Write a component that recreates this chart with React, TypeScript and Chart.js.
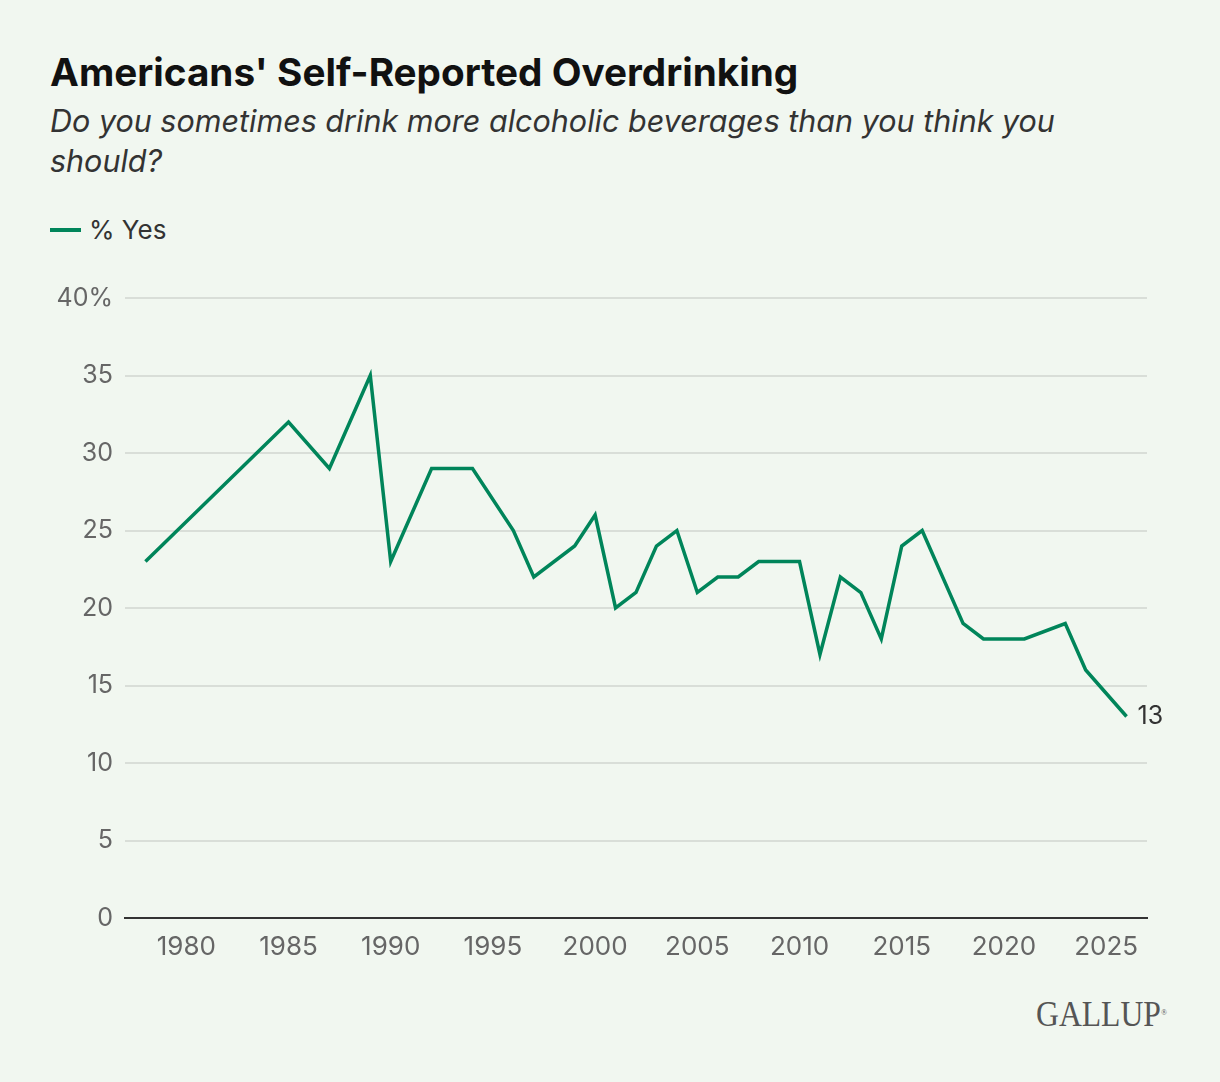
import { useEffect, useRef } from 'react';
import { Chart, registerables } from 'chart.js';

Chart.register(...registerables);

// survey years and % saying "yes"
const years = [1978, 1985, 1987, 1989, 1990, 1992, 1993, 1994, 1996, 1997, 1999, 2000, 2001, 2002, 2003, 2004, 2005, 2006, 2007, 2008, 2009, 2010, 2011, 2012, 2013, 2014, 2015, 2016, 2018, 2019, 2020, 2021, 2023, 2024, 2026];
const yesPct = [23, 32, 29, 35, 23, 29, 29, 29, 25, 22, 24, 26, 20, 21, 24, 25, 21, 22, 22, 23, 23, 23, 17, 22, 21, 18, 24, 25, 19, 18, 18, 18, 19, 16, 13];
const xTicks = [1980, 1985, 1990, 1995, 2000, 2005, 2010, 2015, 2020, 2025];
const yTicks = [0, 5, 10, 15, 20, 25, 30, 35, 40];

const GREEN = '#00855a';
const BG = '#f1f7f0';
const FONT = 'Inter, Roboto, "Noto Sans", sans-serif';

document.body.style.margin = '0';

// writes the last value next to the line end
const endLabel = {
  id: 'endLabel',
  afterDatasetsDraw(chart: any) {
    const meta = chart.getDatasetMeta(0);
    const last = meta.data[meta.data.length - 1];
    if (!last) return;
    const ctx = chart.ctx;
    ctx.save();
    ctx.font = `25px ${FONT}`;
    ctx.fillStyle = '#333';
    ctx.textBaseline = 'middle';
    ctx.fillText(String(yesPct[yesPct.length - 1]), last.x + 11, last.y);
    ctx.restore();
  },
};

export default function App() {
  const canvasRef = useRef<HTMLCanvasElement>(null);

  useEffect(() => {
    const chart = new Chart(canvasRef.current!, {
      type: 'line',
      data: {
        datasets: [{
          label: '% Yes',
          data: years.map((y, i) => ({ x: y, y: yesPct[i] })),
          borderColor: GREEN,
          borderWidth: 3.5,
          pointRadius: 0,
          tension: 0,
        }],
      },
      options: {
        animation: false,
        responsive: false,
        layout: { padding: { top: 9, right: 73, left: 0, bottom: 0 } },
        plugins: { legend: { display: false }, tooltip: { enabled: false } },
        scales: {
          x: {
            type: 'linear',
            min: 1977,
            max: 2027,
            afterBuildTicks: (s: any) => { s.ticks = xTicks.map((v) => ({ value: v })); },
            afterFit: (s: any) => { s.height = 42; },
            grid: { display: false, drawTicks: false },
            border: { display: true, color: '#333', width: 2 },
            ticks: { padding: 14, color: '#666', font: { family: FONT, size: 26 }, callback: (v: any) => String(v) },
          },
          y: {
            min: 0,
            max: 40,
            afterBuildTicks: (s: any) => { s.ticks = yTicks.map((v) => ({ value: v })); },
            afterFit: (s: any) => { s.width = 125; },
            grid: {
              drawTicks: false,
              color: (c: any) => (c.tick && c.tick.value === 0 ? 'rgba(0,0,0,0)' : '#d9ded8'),
              lineWidth: 2,
            },
            border: { display: false },
            ticks: {
              padding: 12,
              color: '#666',
              font: { family: FONT, size: 25 },
              callback: (v: any) => (v === 40 ? '40%' : String(v)),
            },
          },
        },
      },
      plugins: [endLabel],
    });
    return () => chart.destroy();
  }, []);

  return (
    <div style={{ position: 'relative', width: 1220, height: 1082, background: BG, fontFamily: FONT, overflow: 'hidden' }}>
      <div style={{ position: 'absolute', left: 50, top: 48, fontSize: 38.7, fontWeight: 700, color: '#111', lineHeight: '48px' }}>
        Americans' Self-Reported Overdrinking
      </div>
      <div style={{ position: 'absolute', left: 50, top: 101, width: 1090, fontSize: 30.5, fontStyle: 'italic', color: '#333', lineHeight: '40px' }}>
        Do you sometimes drink more alcoholic beverages than you think you should?
      </div>
      <div style={{ position: 'absolute', left: 50, top: 214, display: 'flex', alignItems: 'center', fontSize: 26, color: '#333' }}>
        <span style={{ display: 'inline-block', width: 31, height: 4, background: GREEN, marginRight: 8 }} />
        <span>% Yes</span>
      </div>
      <canvas ref={canvasRef} width={1220} height={689} style={{ position: 'absolute', left: 0, top: 271, width: 1220, height: 689 }} />
      <div style={{ position: 'absolute', left: 1036, top: 992, fontFamily: '"Liberation Serif", "DejaVu Serif", serif', fontSize: 36, color: '#555', transform: 'scaleX(0.88)', transformOrigin: 'left top', lineHeight: '44px' }}>
        GALLUP<span style={{ fontSize: 9, verticalAlign: 'top', position: 'relative', top: -2 }}>®</span>
      </div>
    </div>
  );
}
